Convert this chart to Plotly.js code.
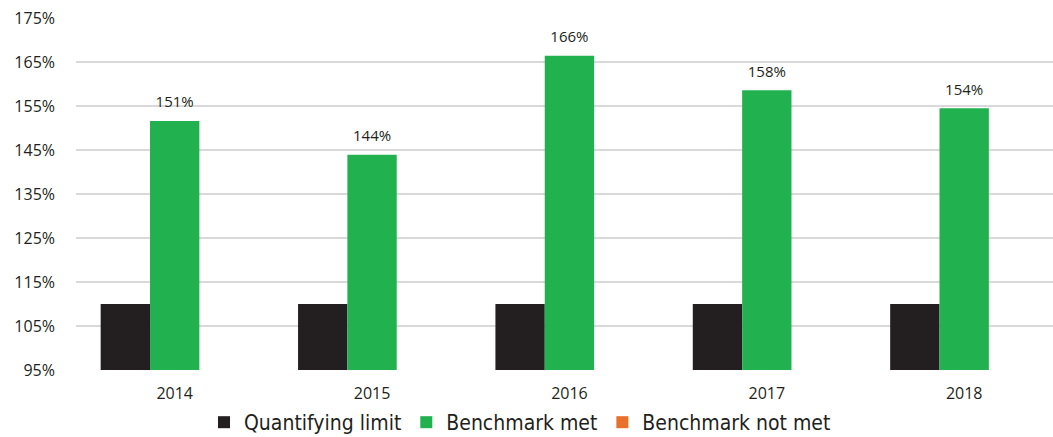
<!DOCTYPE html>
<html>
<head>
<meta charset="utf-8">
<script src="https://cdn.plot.ly/plotly-3.0.1.min.js"></script>
<style>html,body{margin:0;padding:0;background:#fff;}#chart{width:1053px;height:437px;}</style>
</head>
<body>
<div id="chart"></div>
<script>
const years = ['2014', '2015', '2016', '2017', '2018'];
const quantifyingLimit = [110, 110, 110, 110, 110];
const benchmarkMet = [151.6, 143.9, 166.4, 158.6, 154.5];
const benchmarkMetLabels = ['151%', '144%', '166%', '158%', '154%'];
const benchmarkNotMet = [95, 95, 95, 95, 95];
const yTicks = [95, 105, 115, 125, 135, 145, 155, 165, 175];
const yTickLabels = ['95%', '105%', '115%', '125%', '135%', '145%', '155%', '165%', '175%'];

const fontFam = '"Open Sans", Lato, sans-serif';
const legFam = '"Liberation Sans Narrow", "DejaVu Sans Condensed", "Open Sans", sans-serif';
const txt = '#231f20';

const data = [
  {type: 'bar', name: 'Quantifying limit', x: years, y: quantifyingLimit,
   marker: {color: '#231f20'}, hoverinfo: 'skip'},
  {type: 'bar', name: 'Benchmark met', x: years, y: benchmarkMet,
   marker: {color: '#22b14f'}, hoverinfo: 'skip'},
  {type: 'bar', name: 'Benchmark not met', x: years, y: benchmarkNotMet,
   marker: {color: '#e8702a'}, hoverinfo: 'skip'},
  {type: 'scatter', mode: 'markers+text', x: years, y: benchmarkMet, text: benchmarkMetLabels,
   textposition: 'top center', marker: {size: 14, opacity: 0, color: '#fff'},
   textfont: {family: fontFam, size: 15, color: txt}, showlegend: false,
   cliponaxis: false, hoverinfo: 'skip'}
];

const layout = {
  width: 1053, height: 437,
  margin: {l: 76, r: 0, t: 18, b: 67},
  paper_bgcolor: '#fff', plot_bgcolor: '#fff',
  barmode: 'group', bargap: 0.25, bargroupgap: 0,
  font: {family: fontFam, color: txt, size: 16},
  xaxis: {type: 'category', range: [-0.5, 4.45], showgrid: false, zeroline: false,
          showline: false, ticks: '', ticklabelstandoff: 12,
          tickfont: {size: 16, color: txt}, fixedrange: true, automargin: false},
  yaxis: {range: [95, 175], tickvals: yTicks, ticktext: yTickLabels, showgrid: true,
          gridcolor: '#d9d9d9', gridwidth: 2, zeroline: false, showline: false,
          ticks: '', ticklabelstandoff: 20, tickfont: {size: 16, color: txt},
          fixedrange: true, automargin: false},
  showlegend: true,
  legend: {orientation: 'h', x: 204 / 1053, xanchor: 'left', xref: 'container',
           y: 0.08, yanchor: 'top', yref: 'container', bgcolor: 'rgba(0,0,0,0)',
           font: {family: legFam, size: 21, color: txt}, itemwidth: 30, traceorder: 'normal'}
};

Plotly.newPlot('chart', data, layout, {displayModeBar: false, staticPlot: true});
</script>
</body>
</html>
